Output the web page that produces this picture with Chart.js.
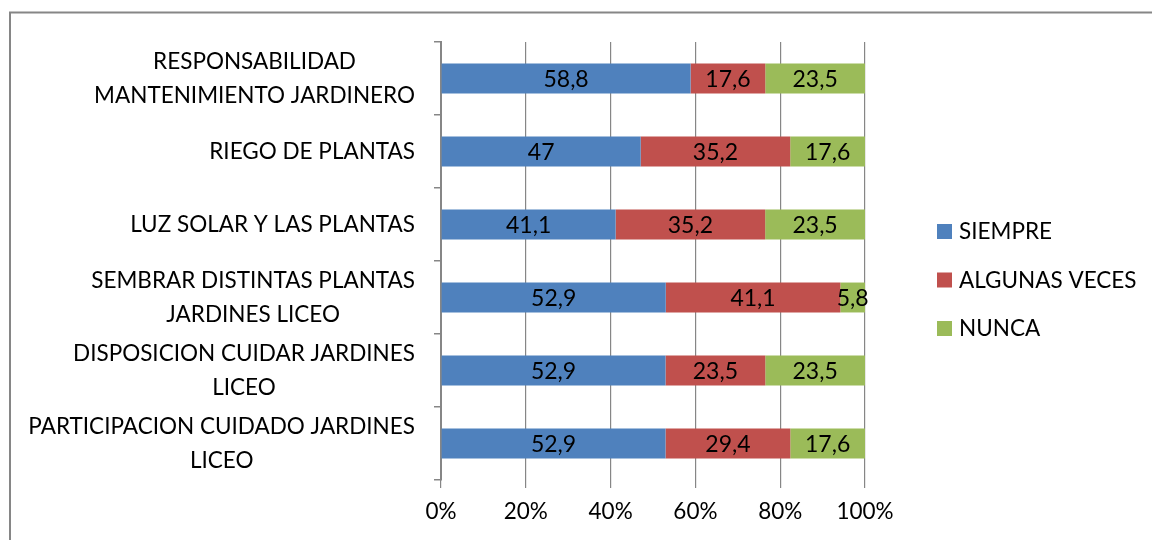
<!DOCTYPE html>
<html>
<head>
<meta charset="utf-8">
<script src="https://cdn.jsdelivr.net/npm/chart.js@4/dist/chart.umd.min.js"></script>
<style>
html, body { margin: 0; padding: 0; background: #fff; overflow: hidden; }
</style>
</head>
<body>
<canvas id="grafico" width="1152" height="540"></canvas>
<script>
// DATOS
const categorias = [
    ["RESPONSABILIDAD", "MANTENIMIENTO JARDINERO"],
    ["RIEGO DE PLANTAS"],
    ["LUZ SOLAR Y LAS PLANTAS"],
    ["SEMBRAR DISTINTAS PLANTAS", "JARDINES LICEO"],
    ["DISPOSICION CUIDAR JARDINES", "LICEO"],
    ["PARTICIPACION CUIDADO JARDINES", "LICEO"]
];
const series = ["SIEMPRE", "ALGUNAS VECES", "NUNCA"];
const siempre = [58.8, 47, 41.1, 52.9, 52.9, 52.9];
const algunasVeces = [17.6, 35.2, 35.2, 41.1, 23.5, 29.4];
const nunca = [23.5, 17.6, 23.5, 5.8, 23.5, 17.6];
const ticksX = [0, 20, 40, 60, 80, 100];

// ESTILO
const colores = ["#4F81BD", "#C0504D", "#9BBB59"];
const fuente = "Lato";
const tam = 22.5;
const gris = "#868686";

// 100% apilado, como Excel
const valores = [siempre, algunasVeces, nunca];
const totales = categorias.map((c, i) => siempre[i] + algunasVeces[i] + nunca[i]);
const datasets = valores.map((vals, s) => ({
    label: series[s],
    data: vals.map((v, i) => v / totales[i] * 100),
    valoresOriginales: vals,
    backgroundColor: colores[s],
    borderWidth: 0,
    categoryPercentage: 1,
    barPercentage: 0.41
}));

const fmt = v => String(v).replace(".", ",");

// marco del gráfico
const marco = {
    id: "marco",
    beforeDraw(chart) {
        const ctx = chart.ctx;
        ctx.save();
        ctx.strokeStyle = gris;
        ctx.lineWidth = 2;
        ctx.beginPath();
        ctx.moveTo(10, 540);
        ctx.lineTo(10, 12.5);
        ctx.lineTo(1152, 12.5);
        ctx.stroke();
        ctx.restore();
    }
};

// etiquetas del eje Y (líneas centradas, bloque alineado a la derecha)
const etiquetasY = {
    id: "etiquetasY",
    afterDraw(chart) {
        const ctx = chart.ctx;
        const y = chart.scales.y;
        ctx.save();
        ctx.font = tam + "px " + fuente;
        ctx.fillStyle = "#000";
        ctx.textAlign = "center";
        ctx.textBaseline = "middle";
        const derecha = y.right - 26;
        const alto = 34;
        categorias.forEach((lineas, i) => {
            const yc = y.getPixelForValue(i);
            const ancho = Math.max(...lineas.map(l => ctx.measureText(l).width));
            const xc = derecha - ancho / 2;
            lineas.forEach((l, j) => ctx.fillText(l, xc, yc + (j - (lineas.length - 1) / 2) * alto));
        });
        ctx.restore();
    }
};

// valores dentro de las barras
const etiquetasBarras = {
    id: "etiquetasBarras",
    afterDatasetsDraw(chart) {
        const ctx = chart.ctx;
        ctx.save();
        ctx.font = (tam + 0.5) + "px " + fuente;
        ctx.fillStyle = "#000";
        ctx.textAlign = "center";
        ctx.textBaseline = "middle";
        chart.data.datasets.forEach((ds, d) => {
            chart.getDatasetMeta(d).data.forEach((bar, i) => {
                ctx.fillText(fmt(ds.valoresOriginales[i]), (bar.x + bar.base) / 2, bar.y + 1);
            });
        });
        ctx.restore();
    }
};

// leyenda a la derecha
const leyenda = {
    id: "leyenda",
    afterDraw(chart) {
        const ctx = chart.ctx;
        ctx.save();
        ctx.font = tam + "px " + fuente;
        ctx.textAlign = "left";
        ctx.textBaseline = "middle";
        series.forEach((s, i) => {
            const yc = 232 + i * 48.5;
            ctx.fillStyle = colores[i];
            ctx.fillRect(937, yc - 8, 15, 15);
            ctx.fillStyle = "#000";
            ctx.fillText(s, 959, yc);
        });
        ctx.restore();
    }
};

new Chart(document.getElementById("grafico"), {
    type: "bar",
    data: { labels: categorias, datasets: datasets },
    options: {
        responsive: false,
        animation: false,
        indexAxis: "y",
        layout: { padding: { left: 0, top: 42, right: 287, bottom: 0 } },
        plugins: { legend: { display: false }, tooltip: { enabled: false } },
        scales: {
            x: {
                stacked: true,
                min: 0,
                max: 100,
                afterBuildTicks: s => { s.ticks = ticksX.map(v => ({ value: v })); },
                afterFit: s => { s.height = 60; },
                border: { display: false },
                grid: { color: gris, lineWidth: 1.2, tickLength: 8 },
                ticks: {
                    color: "#000",
                    font: { family: fuente, size: tam },
                    padding: 10,
                    maxRotation: 0,
                    callback: v => v + "%"
                }
            },
            y: {
                stacked: true,
                afterFit: s => { s.width = 441; },
                border: { color: gris, width: 2 },
                grid: { drawOnChartArea: false, color: gris, lineWidth: 1.5, tickLength: 7 },
                ticks: { display: false }
            }
        }
    },
    plugins: [marco, etiquetasY, etiquetasBarras, leyenda]
});
</script>
</body>
</html>
